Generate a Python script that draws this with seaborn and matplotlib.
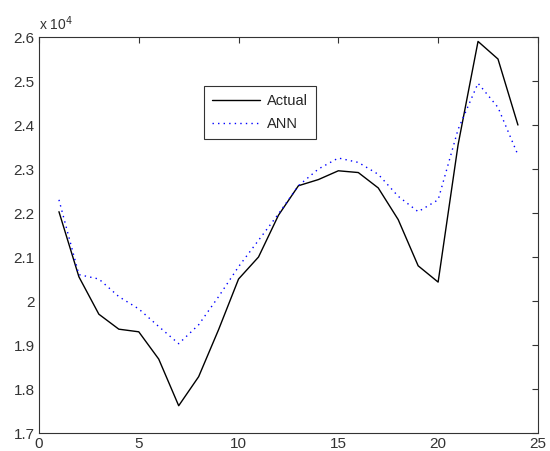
import pandas as pd
import matplotlib
matplotlib.use('Agg')
import matplotlib.pyplot as plt
import seaborn as sns
from matplotlib.ticker import FuncFormatter

amostras = list(range(1, 25))
actual = [22030, 20550, 19700, 19360, 19300, 18680, 17620, 18280, 19350, 20500,
          21000, 21950, 22620, 22760, 22960, 22920, 22570, 21850, 20800, 20430,
          23550, 25900, 25500, 24000]
ann = [22300, 20600, 20500, 20100, 19820, 19420, 19030, 19460, 20100, 20780,
       21380, 21980, 22620, 23000, 23250, 23150, 22880, 22380, 22030, 22300,
       23900, 24950, 24400, 23320]

df = pd.DataFrame({'x': amostras * 2,
                   'valor': actual + ann,
                   'serie': ['Actual'] * len(actual) + ['ANN'] * len(ann)})

sns.set_style('white')
plt.rcParams['font.family'] = ['Liberation Sans', 'DejaVu Sans']

fig = plt.figure(figsize=(5.5, 4.51), dpi=100)
ax = fig.add_axes([0.0709, 0.0399, 0.9071, 0.878])

sns.lineplot(data=df, x='x', y='valor', hue='serie', style='serie',
             palette={'Actual': 'black', 'ANN': 'blue'},
             dashes={'Actual': '', 'ANN': (1, 3)},
             linewidth=1.0, ax=ax)

ax.set_xlim(0, 25)
ax.set_ylim(17000, 26000)
ax.set_xticks([0, 5, 10, 15, 20, 25])
ax.set_yticks([17000 + 1000 * i for i in range(10)])
ax.yaxis.set_major_formatter(FuncFormatter(lambda v, p: f'{v / 1e4:g}'))
ax.set_xlabel('')
ax.set_ylabel('')
ax.tick_params(direction='in', top=True, right=True, length=4, width=0.8,
               labelsize=11, colors='#333333', pad=3)
for s in ax.spines.values():
    s.set_color('#333333')
    s.set_linewidth(0.8)

ax.text(0.0, 1.01, r'x 10$^4$', transform=ax.transAxes, fontsize=10,
        color='#333333', ha='left', va='bottom')

leg = ax.legend(loc='upper left', bbox_to_anchor=(0.331, 0.876), fontsize=10.5,
                frameon=True, fancybox=False, edgecolor='black', borderpad=0.55,
                borderaxespad=0, handlelength=3.3, handletextpad=0.45,
                labelspacing=0.6)
leg.get_frame().set_linewidth(0.8)

plt.savefig('out.png', dpi=100)
